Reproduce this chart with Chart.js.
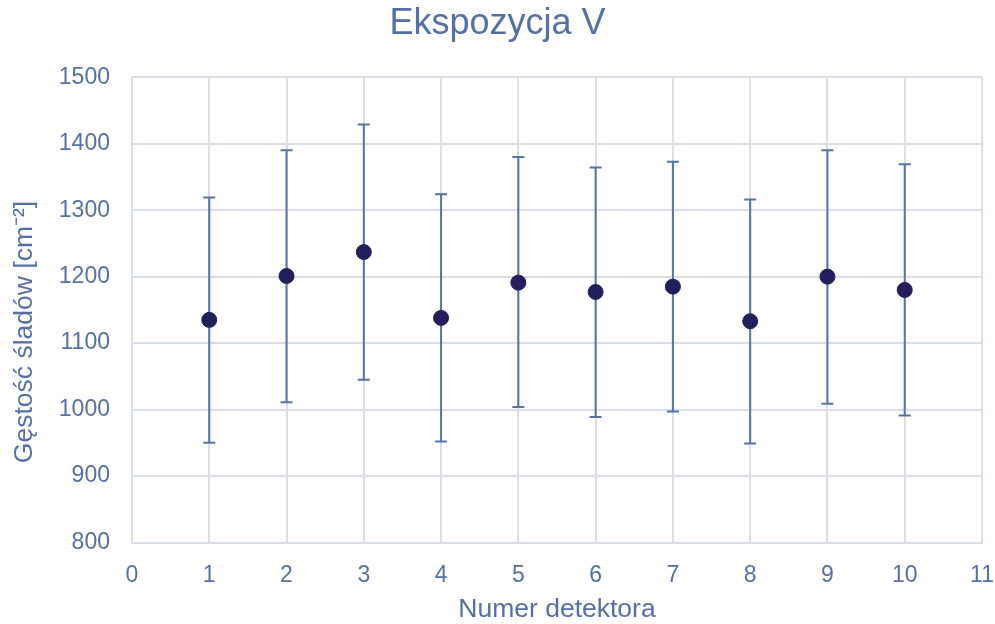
<!DOCTYPE html>
<html>
<head>
<meta charset="utf-8">
<script src="https://cdn.jsdelivr.net/npm/chart.js@4.4.1/dist/chart.umd.min.js"></script>
<style>
  html, body { margin: 0; padding: 0; background: #fff; }
  .chart-wrapper { width: 995px; height: 624px; }
</style>
</head>
<body>
<div class="chart-wrapper">
  <canvas id="chart" width="995" height="624"></canvas>
</div>
<script>
const detectors = [1, 2, 3, 4, 5, 6, 7, 8, 9, 10];
const density = [1135, 1201, 1237, 1138, 1191, 1177, 1185, 1133, 1200, 1180];
const errLow = [950, 1011, 1045, 952, 1004, 989, 997, 949, 1009, 991];
const errHigh = [1319, 1390, 1429, 1324, 1380, 1364, 1373, 1316, 1390, 1369];

const textColor = '#5470A6';
const gridColor = '#D9DEEB';
const fontFamily = 'Liberation Sans, Arial';

// whiskers with caps, drawn from the same scales as the points
const errorBars = {
  id: 'errorBars',
  beforeDatasetsDraw(chart) {
    const { ctx, scales: { x, y } } = chart;
    ctx.save();
    ctx.strokeStyle = '#5673A8';
    ctx.lineWidth = 2;
    detectors.forEach((d, i) => {
      const px = x.getPixelForValue(d);
      const top = y.getPixelForValue(errHigh[i]);
      const bot = y.getPixelForValue(errLow[i]);
      ctx.beginPath();
      ctx.moveTo(px, top);
      ctx.lineTo(px, bot);
      ctx.moveTo(px - 6, top);
      ctx.lineTo(px + 6, top);
      ctx.moveTo(px - 6, bot);
      ctx.lineTo(px + 6, bot);
      ctx.stroke();
    });
    ctx.restore();
  }
};

const ctx = document.getElementById('chart').getContext('2d');
new Chart(ctx, {
  type: 'scatter',
  data: {
    datasets: [{
      label: 'Gęstość śladów',
      data: detectors.map((d, i) => ({ x: d, y: density[i] })),
      backgroundColor: '#211F5C',
      borderColor: '#211F5C',
      pointRadius: 7.5,
      pointHoverRadius: 7.5
    }]
  },
  options: {
    responsive: false,
    animation: false,
    layout: { padding: 0 },
    plugins: {
      legend: { display: false },
      tooltip: { enabled: false },
      title: {
        display: true,
        text: 'Ekspozycja V',
        color: textColor,
        font: { family: fontFamily, size: 36, weight: 'normal' },
        padding: { top: 2, bottom: 32 }
      }
    },
    scales: {
      x: {
        type: 'linear',
        min: 0,
        max: 11,
        afterFit(scale) { scale.paddingRight = 13; },
        ticks: {
          stepSize: 1,
          color: textColor,
          padding: 19,
          callback: v => String(v),
          font: { family: fontFamily, size: 23 }
        },
        grid: { color: gridColor, lineWidth: 2, drawTicks: false },
        border: { color: gridColor, width: 2 },
        title: {
          display: true,
          text: 'Numer detektora',
          color: textColor,
          font: { family: fontFamily, size: 26.5 },
          padding: { top: -14, bottom: -2 }
        }
      },
      y: {
        min: 800,
        max: 1500,
        ticks: {
          stepSize: 100,
          color: textColor,
          padding: 22,
          callback: v => String(v),
          font: { family: fontFamily, size: 23 }
        },
        grid: { color: gridColor, lineWidth: 2, drawTicks: false },
        border: { color: gridColor, width: 2 },
        title: {
          display: true,
          text: 'Gęstość śladów [cm⁻²]      ',
          color: textColor,
          font: { family: fontFamily, size: 26.5 },
          padding: { top: 9, bottom: -4 }
        }
      }
    }
  },
  plugins: [errorBars]
});
</script>
</body>
</html>
